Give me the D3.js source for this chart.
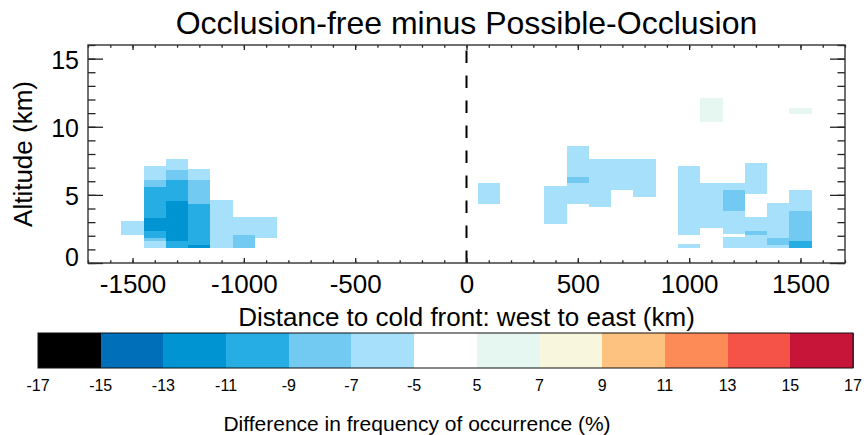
<!DOCTYPE html>
<html lang="en">
<head>
    <meta charset="UTF-8">
    <title>Occlusion-free minus Possible-Occlusion</title>
    <script src="https://d3js.org/d3.v7.min.js"></script>
    <style>
        body { margin: 0; background: #fff; }
        text { font-family: "Liberation Sans", Arial, Helvetica, sans-serif; fill: #000; }
        .axis path { display: none; }
        .axis line { stroke: #222; stroke-width: 1.3px; }
    </style>
</head>
<body>
    <script>
        // cells: [distance centre (km), bottom (km), top (km), difference (%)]
        const cells = [
            [-1500, 2.04, 3.07, -6],
            [-1400, 6.09, 7.12, -6], [-1400, 5.57, 6.09, -8], [-1400, 3.29, 5.57, -10],
            [-1400, 2.33, 3.29, -12], [-1400, 1.84, 2.33, -10], [-1400, 1.60, 1.84, -8],
            [-1400, 1.08, 1.60, -6],
            [-1300, 6.83, 7.64, -6], [-1300, 6.09, 6.83, -8], [-1300, 4.54, 6.09, -10],
            [-1300, 1.60, 4.54, -12], [-1300, 1.08, 1.60, -10],
            [-1200, 6.09, 6.90, -6], [-1200, 4.32, 6.09, -8], [-1200, 1.33, 4.32, -10],
            [-1200, 1.08, 1.33, -12],
            [-1100, 1.08, 4.62, -6],
            [-1000, 2.04, 3.36, -6], [-1000, 1.08, 2.04, -8],
            [-900, 1.84, 3.36, -6],
            [100, 4.34, 5.87, -6],
            [400, 2.87, 5.65, -6],
            [500, 6.31, 8.59, -6], [500, 5.87, 6.31, -8], [500, 4.34, 5.87, -6],
            [600, 4.12, 7.64, -6],
            [700, 5.38, 7.64, -6],
            [800, 4.86, 7.64, -6],
            [1000, 2.06, 7.12, -6], [1000, 1.08, 1.38, -6],
            [1100, 2.58, 5.87, -6], [1100, 10.36, 12.13, 6],
            [1200, 5.35, 5.87, -6], [1200, 3.81, 5.35, -8], [1200, 2.11, 3.81, -6],
            [1200, 1.08, 1.89, -6],
            [1300, 5.08, 7.35, -6], [1300, 2.33, 3.37, -6], [1300, 2.04, 2.33, -8],
            [1300, 1.08, 2.04, -6],
            [1400, 1.82, 4.40, -6], [1400, 1.30, 1.82, -8], [1400, 1.08, 1.30, -6],
            [1500, 3.81, 5.35, -6], [1500, 1.60, 3.81, -8], [1500, 1.08, 1.60, -10],
            [1500, 10.90, 11.39, 6]
        ];
        const binWidth = 100;

        const xTicks = [-1500, -1000, -500, 0, 500, 1000, 1500];
        const yTicks = [0, 5, 10, 15];
        const levels = [-17, -15, -13, -11, -9, -7, -5, 5, 7, 9, 11, 13, 15, 17];
        const levelColors = ["#000000", "#006fb9", "#0094d3", "#26aee4", "#72c9f1", "#a7e0fa",
            "#ffffff", "#e6f6f0", "#f8f6dc", "#fdc27f", "#fc8b58", "#f55348", "#c7153a"];

        const width = 866, height = 435;
        const plot = { left: 88, right: 845, top: 45, bottom: 263 };

        const svg = d3.select("body").append("svg")
            .attr("width", width)
            .attr("height", height);

        const x = d3.scaleLinear().domain([-1700, 1700]).range([plot.left, plot.right]);
        const y = d3.scaleLinear().domain([0, 16]).range([plot.bottom, plot.top]);

        const color = d3.scaleThreshold()
            .domain(levels.slice(1, -1))
            .range(levelColors);

        // cells
        svg.append("g")
            .selectAll("rect")
            .data(cells)
            .join("rect")
            .attr("x", d => x(d[0] - binWidth / 2))
            .attr("width", d => x(d[0] + binWidth / 2) - x(d[0] - binWidth / 2))
            .attr("y", d => y(d[2]))
            .attr("height", d => y(d[1]) - y(d[2]))
            .attr("fill", d => color(d[3]))
            .attr("shape-rendering", "crispEdges");

        // cold front position
        svg.append("line")
            .attr("x1", x(0)).attr("x2", x(0))
            .attr("y1", y(0)).attr("y2", y(16))
            .attr("stroke", "#000")
            .attr("stroke-width", 2)
            .attr("stroke-dasharray", "12.5,12.5");

        // axes: major and minor ticks, all pointing inward
        const xMinor = d3.range(-1700, 1701, 100);
        const yMinor = d3.range(0, 17, 1);
        const fmt = d => String(d);

        function addAxis(axis, transform) {
            svg.append("g").attr("class", "axis").attr("transform", transform).call(axis);
        }
        addAxis(d3.axisBottom(x).tickValues(xMinor).tickSize(-2.7).tickFormat(""), `translate(0,${plot.bottom})`);
        addAxis(d3.axisTop(x).tickValues(xMinor).tickSize(-2.7).tickFormat(""), `translate(0,${plot.top})`);
        addAxis(d3.axisLeft(y).tickValues(yMinor).tickSize(-7.5).tickFormat(""), `translate(${plot.left},0)`);
        addAxis(d3.axisRight(y).tickValues(yMinor).tickSize(-7.5).tickFormat(""), `translate(${plot.right},0)`);
        addAxis(d3.axisTop(x).tickValues(xTicks).tickSize(-5).tickFormat(""), `translate(0,${plot.top})`);
        addAxis(d3.axisRight(y).tickValues(yTicks).tickSize(-15).tickFormat(""), `translate(${plot.right},0)`);

        const xAxis = svg.append("g").attr("class", "axis")
            .attr("transform", `translate(0,${plot.bottom})`)
            .call(d3.axisBottom(x).tickValues(xTicks).tickSize(-5).tickPadding(12).tickFormat(fmt));
        xAxis.selectAll("text").attr("font-size", 26).attr("dy", "0.71em");

        const yAxis = svg.append("g").attr("class", "axis")
            .attr("transform", `translate(${plot.left},0)`)
            .call(d3.axisLeft(y).tickValues(yTicks).tickSize(-15).tickPadding(9).tickFormat(fmt));
        yAxis.selectAll("text").attr("font-size", 25).attr("dy", "0.4em");
        yAxis.selectAll(".tick").filter(d => d === 0).select("text").attr("y", -8);

        svg.append("rect")
            .attr("x", plot.left).attr("y", plot.top)
            .attr("width", plot.right - plot.left)
            .attr("height", plot.bottom - plot.top)
            .attr("fill", "none")
            .attr("stroke", "#333")
            .attr("stroke-width", 1.4);

        // titles
        svg.append("text")
            .attr("x", (plot.left + plot.right) / 2).attr("y", 34)
            .attr("text-anchor", "middle").attr("font-size", 32)
            .text("Occlusion-free minus Possible-Occlusion");

        svg.append("text")
            .attr("x", (plot.left + plot.right) / 2).attr("y", 326)
            .attr("text-anchor", "middle").attr("font-size", 26)
            .text("Distance to cold front: west to east (km)");

        svg.append("text")
            .attr("transform", `translate(32,${(plot.top + plot.bottom) / 2}) rotate(-90)`)
            .attr("text-anchor", "middle").attr("font-size", 26)
            .text("Altitude (km)");

        // colour bar
        const bar = { left: 38, right: 853, top: 333, bottom: 368 };
        const cb = d3.scaleBand()
            .domain(d3.range(levels.length - 1))
            .range([bar.left, bar.right]);

        svg.append("g")
            .selectAll("rect")
            .data(levelColors)
            .join("rect")
            .attr("x", (d, i) => cb(i))
            .attr("width", cb.bandwidth() + 0.5)
            .attr("y", bar.top)
            .attr("height", bar.bottom - bar.top)
            .attr("fill", d => d)
            .attr("shape-rendering", "crispEdges");

        svg.append("rect")
            .attr("x", bar.left).attr("y", bar.top)
            .attr("width", bar.right - bar.left)
            .attr("height", bar.bottom - bar.top)
            .attr("fill", "none")
            .attr("stroke", "#111")
            .attr("stroke-width", 1);

        svg.append("g")
            .selectAll("text")
            .data(levels)
            .join("text")
            .attr("x", (d, i) => bar.left + i * cb.bandwidth())
            .attr("y", 391)
            .attr("text-anchor", "middle")
            .attr("font-size", 16)
            .text(d => String(d));

        svg.append("text")
            .attr("x", 417).attr("y", 431)
            .attr("text-anchor", "middle").attr("font-size", 21)
            .text("Difference in frequency of occurrence (%)");
    </script>
</body>
</html>
